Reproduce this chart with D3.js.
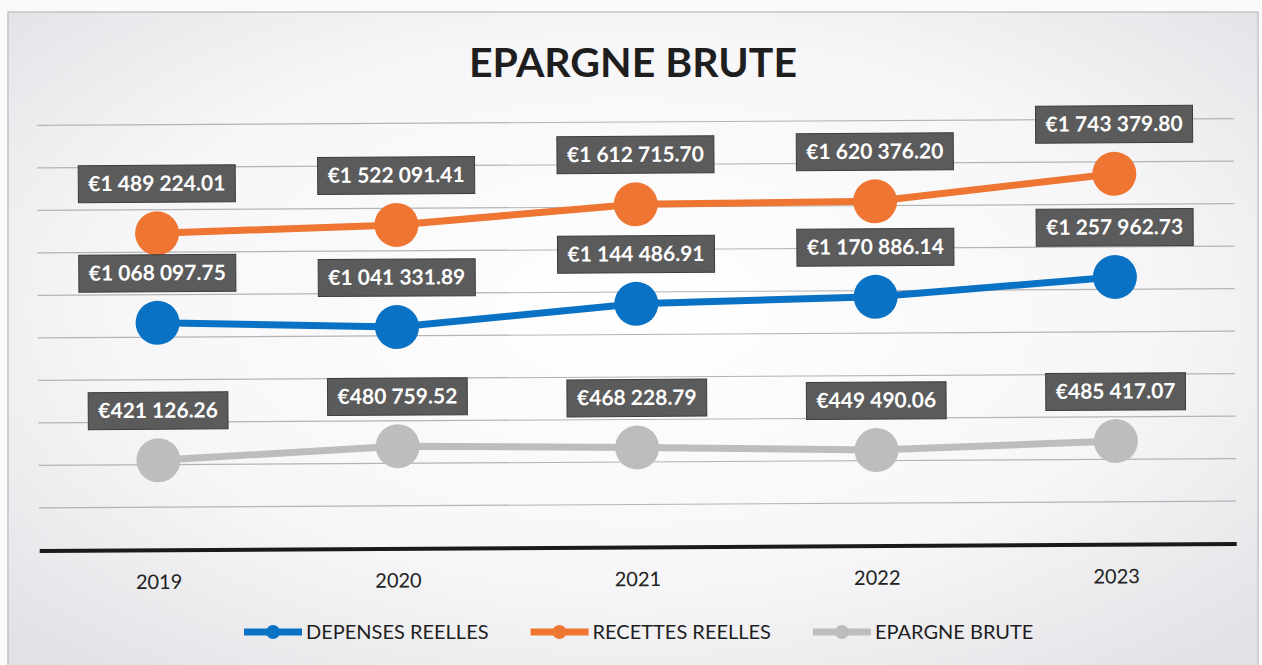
<!DOCTYPE html>
<html>
<head>
<meta charset="utf-8">
<script src="https://cdn.jsdelivr.net/npm/d3@7"></script>
<style>
  body { margin: 0; background: #fafafa; }
  svg { display: block; }
  text { font-family: Lato, "Open Sans", sans-serif; }
</style>
</head>
<body>
<div id="chart"></div>
<script>
var svgWidth = 1262;
var svgHeight = 665;

// chart data
var years = ["2019", "2020", "2021", "2022", "2023"];
var depenses = [1068097.75, 1041331.89, 1144486.91, 1170886.14, 1257962.73];
var recettes = [1489224.01, 1522091.41, 1612715.70, 1620376.20, 1743379.80];
var epargne = [421126.26, 480759.52, 468228.79, 449490.06, 485417.07];
var gridTicks = [200000, 400000, 600000, 800000, 1000000, 1200000, 1400000, 1600000, 1800000, 2000000];

var series = [
  { name: "DEPENSES REELLES", values: depenses, color: "#0a72c4" },
  { name: "RECETTES REELLES", values: recettes, color: "#ee7632" },
  { name: "EPARGNE BRUTE", values: epargne, color: "#bdbdbd" }
];

var svg = d3.select("#chart")
  .append("svg")
  .attr("width", svgWidth)
  .attr("height", svgHeight);

// background, scanned-paper look
var defs = svg.append("defs");
var grad = defs.append("radialGradient")
  .attr("id", "bg")
  .attr("cx", "50%").attr("cy", "45%").attr("r", "70%");
grad.append("stop").attr("offset", "0%").attr("stop-color", "#ffffff");
grad.append("stop").attr("offset", "60%").attr("stop-color", "#f6f6f8");
grad.append("stop").attr("offset", "100%").attr("stop-color", "#e2e2e6");

svg.append("rect")
  .attr("x", 8).attr("y", 12)
  .attr("width", 1250).attr("height", 665)
  .attr("fill", "url(#bg)")
  .attr("stroke", "#c4c4c8")
  .attr("stroke-width", 1.5);

var chartGroup = svg.append("g")
  .attr("transform", "rotate(-0.33, 635, 340)");

// scales
var xScale = d3.scaleBand()
  .domain(years)
  .range([38, 1235]);

var yScale = d3.scaleLinear()
  .domain([0, 2000000])
  .range([547, 122]);

var xc = d => xScale(d) + xScale.bandwidth() / 2;

// title
svg.append("text")
  .attr("x", 633)
  .attr("y", 77)
  .attr("text-anchor", "middle")
  .attr("font-size", 41)
  .attr("font-weight", "bold")
  .attr("fill", "#1e1e1e")
  .text("EPARGNE BRUTE");

// gridlines
chartGroup.append("g")
  .selectAll("line")
  .data(gridTicks)
  .enter()
  .append("line")
  .attr("x1", 38)
  .attr("x2", 1235)
  .attr("y1", d => yScale(d))
  .attr("y2", d => yScale(d))
  .attr("stroke", "#b4b4b8")
  .attr("stroke-width", 1.2);

// x axis
var bottomAxis = d3.axisBottom(xScale).tickSize(0).tickPadding(25);
var xAxis = chartGroup.append("g")
  .attr("transform", `translate(0, ${yScale(0)})`)
  .call(bottomAxis);
xAxis.select(".domain")
  .attr("stroke", "#1a1a1a")
  .attr("stroke-width", 4);
xAxis.selectAll("text")
  .attr("font-size", 20)
  .attr("fill", "#222")
  .style("font-family", "Lato, sans-serif");

// lines and markers
var line = d3.line()
  .x((d, i) => xc(years[i]))
  .y(d => yScale(d));

series.forEach(function (s) {
  chartGroup.append("path")
    .datum(s.values)
    .attr("fill", "none")
    .attr("stroke", s.color)
    .attr("stroke-width", 7)
    .attr("d", line);

  chartGroup.append("g")
    .selectAll("circle")
    .data(s.values)
    .enter()
    .append("circle")
    .attr("cx", (d, i) => xc(years[i]))
    .attr("cy", d => yScale(d))
    .attr("r", 22)
    .attr("fill", s.color);
});

// data labels
var fmt = function (v) {
  var parts = v.toFixed(2).split(".");
  var intPart = parts[0].replace(/\B(?=(\d{3})+(?!\d))/g, " ");
  return "€" + intPart + "." + parts[1];
};

series.forEach(function (s) {
  s.values.forEach(function (v, i) {
    var cx = xc(years[i]);
    var cy = yScale(v) - 50;
    var g = chartGroup.append("g");
    var rect = g.append("rect")
      .attr("fill", "#5b5b5b")
      .attr("stroke", "#3c3c3c")
      .attr("stroke-width", 1);
    var t = g.append("text")
      .attr("x", cx)
      .attr("y", cy + 7.5)
      .attr("text-anchor", "middle")
      .attr("font-size", 21)
      .attr("font-weight", "bold")
      .attr("fill", "#ffffff")
      .text(fmt(v));
    var w = t.node().getComputedTextLength() + 20;
    rect.attr("x", cx - w / 2)
      .attr("y", cy - 18)
      .attr("width", w)
      .attr("height", 37);
  });
});

// legend
var legend = svg.append("g").attr("transform", "translate(244, 632)");
var lx = 0;
series.forEach(function (s) {
  legend.append("line")
    .attr("x1", lx).attr("x2", lx + 58)
    .attr("y1", 0).attr("y2", 0)
    .attr("stroke", s.color)
    .attr("stroke-width", 7);
  legend.append("circle")
    .attr("cx", lx + 29).attr("cy", 0)
    .attr("r", 7)
    .attr("fill", s.color);
  var t = legend.append("text")
    .attr("x", lx + 62)
    .attr("y", 7)
    .attr("font-size", 20)
    .attr("fill", "#1e1e1e")
    .text(s.name);
  lx += 62 + t.node().getComputedTextLength() + 42;
});
</script>
</body>
</html>
